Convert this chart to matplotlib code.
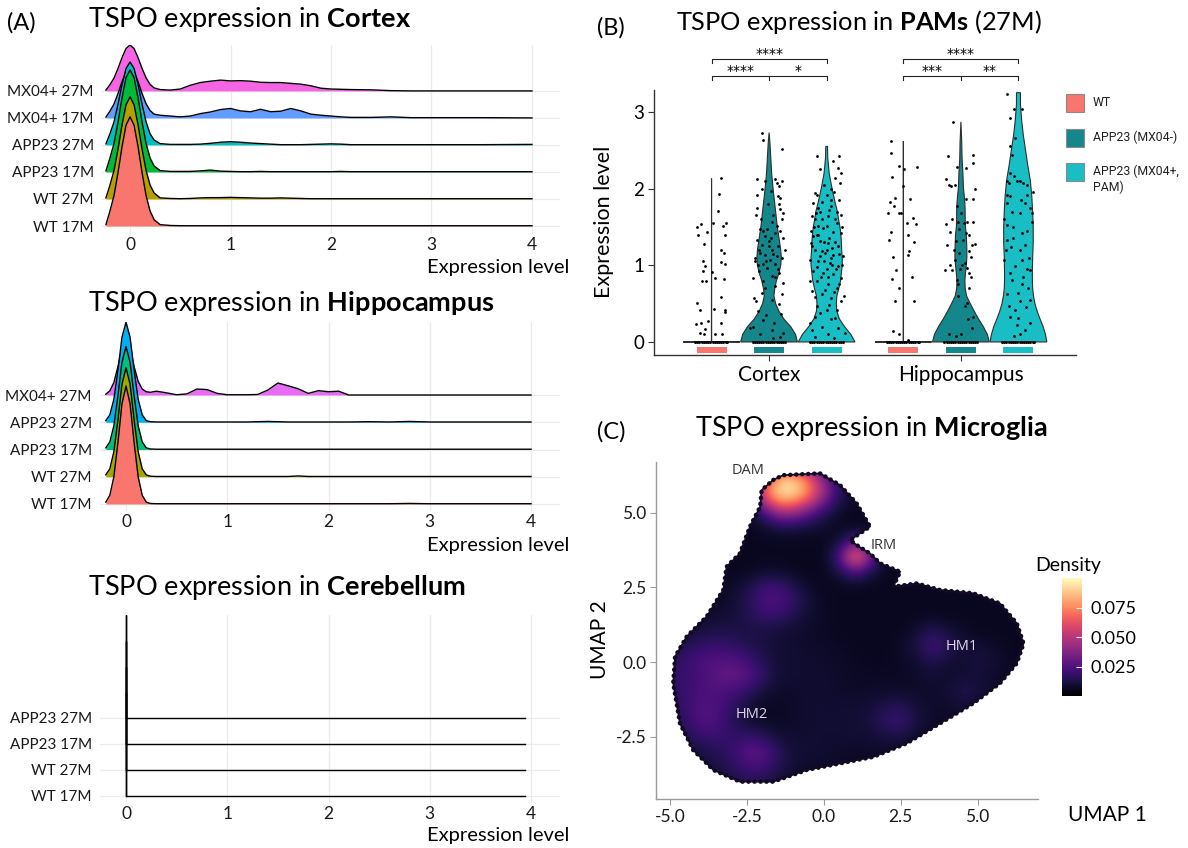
import matplotlib.pyplot as plt
import numpy as np
from matplotlib.patches import Polygon, Rectangle

plt.rcParams['font.family'] = ['Lato', 'DejaVu Sans']
plt.rcParams['mathtext.fontset'] = 'custom'
plt.rcParams['mathtext.rm'] = 'Lato'
plt.rcParams['mathtext.bf'] = 'Lato:bold'

# ---------------- panel A data (ridge heights in row units) ----------------
ridge_x = [-0.24, -0.2, -0.16, -0.12, -0.08, -0.04, 0.0, 0.04, 0.08, 0.12, 0.16, 0.2, 0.24,
           0.3, 0.4, 0.5, 0.6, 0.7, 0.8, 0.9, 1.0, 1.1, 1.2, 1.3, 1.4, 1.5, 1.6, 1.7, 1.8,
           1.9, 2.0, 2.1, 2.2, 2.4, 2.6, 2.8, 3.0, 3.5, 4.0]
hip_x = ridge_x[1:]
cer_x = [0.0, 0.0, 0.0, 3.94]

ctx_labels = ['WT 17M', 'WT 27M', 'APP23 17M', 'APP23 27M', 'MX04+ 17M', 'MX04+ 27M']
ctx_colors = ['#F8766D', '#B79F00', '#00BA38', '#00BFC4', '#619CFF', '#F564E3']
ctx_wt17 = [0.05, 0.55, 1.12, 1.97, 2.93, 3.73, 4.04, 3.73, 2.93, 1.97, 1.12, 0.55, 0.23,
            0.05, 0.02, 0.01, 0.01, 0.01, 0.01, 0.01, 0.01, 0.01, 0.01, 0.01, 0.01, 0.01, 0.01,
            0.01, 0.01, 0.01, 0.01, 0.01, 0.01, 0.01, 0.01, 0.01, 0.01, 0.01, 0.01]
ctx_wt27 = [0.04, 0.51, 1.05, 1.84, 2.74, 3.49, 3.78, 3.49, 2.74, 1.84, 1.05, 0.51, 0.22,
            0.04, 0.02, 0.01, 0.02, 0.04, 0.05, 0.05, 0.06, 0.05, 0.04, 0.03, 0.03, 0.04, 0.03,
            0.02, 0.01, 0.01, 0.01, 0.01, 0.01, 0.01, 0.01, 0.01, 0.01, 0.01, 0.01]
ctx_app17 = [0.04, 0.51, 1.05, 1.84, 2.74, 3.49, 3.78, 3.49, 2.74, 1.84, 1.05, 0.51, 0.22,
             0.05, 0.02, 0.02, 0.02, 0.04, 0.07, 0.03, 0.02, 0.01, 0.01, 0.02, 0.01, 0.01, 0.01,
             0.01, 0.01, 0.01, 0.01, 0.02, 0.01, 0.01, 0.01, 0.01, 0.01, 0.01, 0.01]
ctx_app27 = [0.04, 0.41, 0.85, 1.50, 2.23, 2.83, 3.07, 2.83, 2.23, 1.50, 0.85, 0.41, 0.18,
             0.05, 0.02, 0.02, 0.02, 0.03, 0.06, 0.10, 0.12, 0.10, 0.07, 0.05, 0.03, 0.01, 0.01,
             0.01, 0.02, 0.03, 0.04, 0.03, 0.01, 0.01, 0.01, 0.01, 0.01, 0.01, 0.02]
ctx_mx17 = [0.03, 0.25, 0.51, 0.90, 1.34, 1.71, 1.85, 1.71, 1.34, 0.90, 0.52, 0.27, 0.14,
            0.10, 0.07, 0.04, 0.07, 0.16, 0.22, 0.31, 0.35, 0.26, 0.23, 0.32, 0.23, 0.25, 0.35,
            0.26, 0.14, 0.10, 0.07, 0.04, 0.02, 0.02, 0.04, 0.01, 0.01, 0.01, 0.0]
ctx_mx27 = [0.03, 0.23, 0.47, 0.83, 1.23, 1.57, 1.70, 1.57, 1.23, 0.83, 0.48, 0.24, 0.11,
            0.05, 0.03, 0.07, 0.21, 0.31, 0.36, 0.40, 0.37, 0.38, 0.36, 0.32, 0.31, 0.31, 0.28,
            0.25, 0.19, 0.10, 0.07, 0.06, 0.05, 0.04, 0.01, 0.0, 0.0, 0.0, 0.0]

hip_labels = ['WT 17M', 'WT 27M', 'APP23 17M', 'APP23 27M', 'MX04+ 27M']
hip_colors = ['#F8766D', '#A3A500', '#00BF7D', '#00B0F6', '#E76BF3']
hip_wt17 = [0.07, 0.32, 1.0, 2.25, 3.68, 4.33, 3.68, 2.25, 1.0, 0.32, 0.07, 0.02,
            0.01, 0.01, 0.01, 0.01, 0.01, 0.01, 0.01, 0.01, 0.01, 0.01, 0.01, 0.01, 0.01,
            0.01, 0.01, 0.01, 0.01, 0.01, 0.01, 0.01, 0.01, 0.01, 0.02, 0.01, 0.01, 0.01]
hip_wt27 = [0.07, 0.29, 0.92, 2.08, 3.40, 4.0, 3.40, 2.08, 0.92, 0.29, 0.07, 0.02,
            0.01, 0.01, 0.01, 0.01, 0.01, 0.01, 0.01, 0.01, 0.01, 0.01, 0.01, 0.01, 0.01,
            0.01, 0.03, 0.01, 0.01, 0.01, 0.01, 0.01, 0.01, 0.01, 0.01, 0.01, 0.01, 0.01]
hip_app17 = [0.06, 0.28, 0.87, 1.97, 3.21, 3.78, 3.21, 1.97, 0.87, 0.28, 0.06, 0.02,
             0.01, 0.01, 0.01, 0.01, 0.01, 0.01, 0.01, 0.01, 0.01, 0.01, 0.01, 0.01, 0.01,
             0.01, 0.01, 0.01, 0.01, 0.01, 0.01, 0.01, 0.01, 0.01, 0.01, 0.01, 0.01, 0.01]
hip_app27 = [0.06, 0.27, 0.84, 1.91, 3.12, 3.67, 3.12, 1.91, 0.84, 0.27, 0.06, 0.02,
             0.01, 0.01, 0.01, 0.01, 0.01, 0.01, 0.01, 0.01, 0.01, 0.01, 0.02, 0.03, 0.02,
             0.01, 0.01, 0.01, 0.01, 0.01, 0.01, 0.01, 0.02, 0.01, 0.03, 0.01, 0.01, 0.01]
hip_mx27 = [0.03, 0.15, 0.46, 1.04, 1.70, 2.0, 1.70, 1.04, 0.50, 0.22, 0.12, 0.10,
            0.14, 0.08, 0.01, 0.04, 0.22, 0.20, 0.06, 0.01, 0.01, 0.01, 0.02, 0.18, 0.44,
            0.34, 0.23, 0.06, 0.16, 0.12, 0.14, 0.0, 0.0, 0.0, 0.0, 0.0, 0.0, 0.0]

cer_labels = ['WT 17M', 'WT 27M', 'APP23 17M', 'APP23 27M']
cer_colors = ['#F8766D', '#7CAE00', '#00BFC4', '#C77CFF']
cer_rows = [[0.0, 3.96, 0.0, 0.0], [0.0, 3.96, 0.0, 0.0], [0.0, 3.96, 0.0, 0.0], [0.0, 3.96, 0.0, 0.0]]

# ---------------- panel B data ----------------
regions = ['Cortex', 'Hippocampus']
groups = ['WT', 'APP23 (MX04-)', 'APP23 (MX04+,\nPAM)']
group_colors = ['#F8766D', '#13878C', '#19BEC4']
# violin profiles: (expression level, relative half width)
ctx_wt_vio = [(0.0, 1.0), (0.004, 0.004), (2.13, 0.0)]
ctx_neg_vio = [(0.0, 1.0), (0.1, 0.93), (0.2, 0.76), (0.3, 0.52), (0.4, 0.35), (0.5, 0.23), (0.6, 0.17),
               (0.7, 0.2), (0.8, 0.26), (0.9, 0.35), (1.0, 0.41), (1.1, 0.43), (1.2, 0.41), (1.3, 0.37),
               (1.4, 0.33), (1.5, 0.29), (1.6, 0.26), (1.7, 0.23), (1.8, 0.2), (1.9, 0.17), (2.0, 0.14),
               (2.2, 0.09), (2.4, 0.06), (2.6, 0.03), (2.73, 0.0)]
ctx_pos_vio = [(0.0, 1.0), (0.1, 0.85), (0.2, 0.63), (0.3, 0.45), (0.4, 0.36), (0.5, 0.34), (0.6, 0.36),
               (0.7, 0.43), (0.8, 0.49), (0.9, 0.52), (1.0, 0.55), (1.1, 0.55), (1.2, 0.53), (1.3, 0.52),
               (1.4, 0.5), (1.5, 0.47), (1.6, 0.42), (1.7, 0.38), (1.8, 0.31), (1.9, 0.25), (2.0, 0.19),
               (2.2, 0.09), (2.4, 0.04), (2.55, 0.03)]
hip_wt_vio = [(0.0, 1.0), (0.004, 0.004), (2.62, 0.0)]
hip_neg_vio = [(0.0, 1.0), (0.1, 0.93), (0.2, 0.79), (0.3, 0.62), (0.4, 0.47), (0.5, 0.33), (0.6, 0.2),
               (0.7, 0.15), (0.8, 0.14), (0.9, 0.16), (1.0, 0.19), (1.1, 0.21), (1.2, 0.21), (1.3, 0.2),
               (1.4, 0.19), (1.5, 0.16), (1.6, 0.15), (1.7, 0.15), (1.8, 0.14), (1.9, 0.12), (2.0, 0.09),
               (2.2, 0.07), (2.4, 0.04), (2.6, 0.03), (2.87, 0.0)]
hip_pos_vio = [(0.0, 1.0), (0.1, 0.95), (0.2, 0.87), (0.3, 0.76), (0.4, 0.66), (0.5, 0.58), (0.6, 0.53),
               (0.7, 0.5), (0.8, 0.49), (0.9, 0.49), (1.1, 0.5), (1.3, 0.52), (1.5, 0.52), (1.7, 0.5),
               (1.9, 0.47), (2.1, 0.42), (2.3, 0.33), (2.5, 0.25), (2.7, 0.17), (2.9, 0.11), (3.1, 0.07),
               (3.25, 0.07)]

# jittered cells: (offset in violin half widths, expression level)
ctx_wt_pts = [(0.35, 2.14), (0.27, 1.93), (0.21, 1.71), (0.06, 1.55), (-0.52, 1.5), (-0.38, 1.54),
              (-0.17, 1.44), (-0.47, 1.4), (0.41, 1.51), (0.52, 1.55), (0.47, 1.4), (-0.26, 1.28),
              (0.35, 1.2), (0.43, 1.16), (0.35, 1.04), (0.47, 1.01), (-0.29, 1.05), (-0.23, 0.99),
              (-0.31, 0.92), (0.44, 0.82), (-0.2, 0.8), (-0.34, 0.79), (0.12, 0.83), (0.0, 0.91),
              (0.35, 0.58), (-0.5, 0.51), (-0.41, 0.42), (0.47, 0.42), (0.49, 0.39), (0.1, 0.43),
              (-0.12, 0.27), (-0.38, 0.25), (-0.55, 0.23), (0.35, 0.25), (-0.23, 0.17), (-0.41, 0.12),
              (-0.27, 0.11), (0.12, 0.11), (0.38, 0.11)]
ctx_neg_pts = [(-0.26, 2.73), (-0.22, 2.63), (0.44, 2.52), (-0.43, 2.12), (-0.16, 2.1), (0.21, 2.12),
               (0.27, 2.07), (0.36, 2.03), (0.07, 1.97), (-0.43, 1.92), (0.38, 1.88), (0.34, 1.8),
               (0.38, 1.73), (-0.43, 1.75), (0.5, 1.68), (0.44, 1.6), (-0.47, 1.65), (0.09, 1.57),
               (-0.31, 1.47), (0.21, 1.42), (-0.14, 1.38), (0.5, 1.36), (-0.43, 1.33), (-0.02, 1.31),
               (-0.26, 1.27), (0.33, 1.25), (0.09, 1.2), (-0.31, 1.16), (-0.14, 1.14), (0.27, 1.12),
               (0.44, 1.1), (0.03, 1.07), (-0.49, 1.05), (-0.2, 1.02), (0.21, 1.01), (-0.08, 0.97),
               (-0.34, 0.92), (0.36, 0.9), (0.09, 0.86), (-0.55, 0.83), (-0.2, 0.79), (0.5, 0.77),
               (0.21, 0.73), (-0.26, 0.64), (0.44, 0.62), (0.09, 0.55), (-0.52, 0.57), (-0.47, 0.53),
               (0.42, 0.36), (-0.22, 0.29), (0.17, 0.25), (-0.66, 0.18), (-0.55, 0.2), (0.5, 0.12),
               (-0.31, 0.1), (0.38, 0.07), (0.13, 0.05), (0.0, 1.25), (-0.08, 1.47), (0.27, 1.51),
               (-0.35, 1.2), (0.15, 1.15), (-0.1, 1.05), (0.3, 0.95), (-0.4, 1.0), (0.05, 1.35),
               (-0.2, 1.45), (0.4, 1.45), (-0.3, 1.6), (0.15, 1.65), (-0.05, 1.8), (0.3, 1.9),
               (-0.25, 2.0), (0.45, 2.1), (-0.5, 1.1), (0.55, 1.2), (0.2, 0.85), (-0.15, 0.7),
               (0.35, 0.5), (-0.4, 0.4), (0.1, 0.15), (-0.1, 0.35)]
ctx_pos_pts = [(-0.35, 1.4), (-0.29, 1.51), (-0.52, 1.64), (-0.47, 1.81), (-0.41, 1.94), (0.0, 1.51),
               (0.29, 1.6), (0.44, 2.42), (-0.35, 2.43), (0.23, 2.36), (0.41, 2.27), (0.29, 2.14),
               (0.47, 2.07), (0.14, 1.99), (0.0, 1.92), (-0.17, 1.83), (0.17, 1.77), (0.35, 1.7),
               (-0.23, 1.7), (-0.41, 1.6), (0.06, 1.64), (-0.12, 1.49), (0.23, 1.44), (0.52, 1.42),
               (-0.47, 1.38), (-0.23, 1.31), (0.06, 1.29), (0.41, 1.25), (-0.41, 1.2), (-0.06, 1.16),
               (0.23, 1.14), (0.58, 1.12), (-0.58, 1.07), (-0.29, 1.05), (0.12, 1.03), (0.41, 0.99),
               (-0.47, 0.92), (-0.12, 0.9), (0.23, 0.88), (0.52, 0.83), (-0.35, 0.79), (0.06, 0.75),
               (0.35, 0.7), (-0.52, 0.66), (-0.17, 0.62), (0.17, 0.57), (0.49, 0.53), (-0.35, 0.47),
               (0.0, 0.42), (-0.41, 0.33), (0.29, 0.31), (-0.58, 0.25), (-0.17, 0.2), (0.41, 0.18),
               (-0.41, 0.07), (0.06, 0.1), (0.64, 0.12), (-0.56, 1.29), (0.49, 1.66), (-0.33, 1.92),
               (0.2, 1.22), (-0.1, 1.05), (0.33, 0.95), (-0.25, 1.12), (0.1, 1.35),
               (-0.45, 1.5), (-0.3, 1.75), (0.15, 1.85), (0.45, 1.85), (-0.5, 1.25), (-0.1, 1.3),
               (0.3, 1.3), (0.55, 1.0), (-0.35, 0.98), (0.0, 0.95), (0.15, 1.1), (-0.2, 0.85),
               (0.45, 0.75), (-0.05, 0.68), (0.25, 0.65), (-0.4, 0.58), (0.1, 0.48), (0.35, 0.42),
               (-0.25, 0.38), (0.15, 0.3), (-0.5, 0.15), (0.25, 0.05), (0.55, 1.5), (-0.55, 1.45),
               (0.38, 1.55), (-0.15, 1.6), (0.1, 1.72), (-0.38, 1.68), (0.27, 1.95), (-0.08, 2.05),
               (0.52, 2.2), (-0.25, 2.25), (0.6, 0.6), (-0.6, 0.8), (0.0, 1.2), (0.2, 1.0),
               (-0.3, 1.4), (0.45, 1.15), (-0.15, 1.18), (0.05, 0.85)]
hip_wt_pts = [(-0.44, 2.62), (-0.43, 2.47), (-0.17, 2.29), (0.03, 2.25), (0.47, 2.28), (-0.41, 2.15),
              (0.0, 2.03), (0.23, 1.86), (-0.47, 1.83), (-0.29, 1.88), (-0.33, 1.77), (-0.55, 1.68),
              (-0.17, 1.68), (-0.08, 1.68), (0.33, 1.62), (0.12, 1.55), (0.43, 1.54), (-0.44, 1.43),
              (-0.5, 1.33), (0.15, 1.4), (0.37, 1.3), (0.2, 1.18), (-0.35, 1.11), (0.17, 1.14),
              (-0.26, 0.94), (-0.41, 0.82), (0.31, 0.85), (-0.14, 0.7), (-0.31, 0.53), (0.38, 0.54),
              (-0.37, 0.14), (-0.14, 0.1), (0.17, 0.03)]
hip_neg_pts = [(-0.28, 2.87), (-0.47, 2.43), (0.41, 2.44), (0.44, 2.33), (-0.14, 2.28), (0.19, 2.27),
               (-0.51, 2.12), (-0.42, 2.05), (-0.35, 2.03), (-0.2, 2.05), (0.48, 1.99), (0.19, 1.86),
               (0.42, 1.87), (-0.14, 1.77), (0.0, 1.68), (-0.51, 1.54), (-0.12, 1.57), (0.21, 1.57),
               (0.44, 1.56), (-0.08, 1.47), (0.19, 1.42), (-0.37, 1.43), (-0.16, 1.31), (0.09, 1.33),
               (-0.49, 1.26), (0.38, 1.27), (0.5, 1.28), (0.3, 1.18), (-0.05, 1.16), (0.35, 1.11),
               (-0.2, 1.07), (0.15, 1.03), (-0.55, 0.94), (-0.31, 0.94), (-0.02, 0.95), (0.21, 0.97),
               (0.27, 0.9), (-0.14, 0.81), (-0.12, 0.75), (0.3, 0.7), (0.21, 0.51), (0.15, 0.47),
               (0.44, 0.33), (-0.43, 0.1), (-0.16, 0.08), (0.0, 0.1), (0.38, 0.18),
               (-0.3, 1.6), (0.1, 1.55), (0.3, 1.4), (-0.25, 1.2), (0.05, 1.0), (-0.4, 1.0),
               (0.35, 0.85), (-0.1, 0.6), (0.25, 0.3)]
hip_pos_pts = [(-0.41, 3.23), (-0.17, 3.04), (0.12, 3.04), (-0.31, 2.92), (-0.12, 2.66), (-0.29, 2.55),
               (-0.23, 2.44), (-0.29, 2.2), (-0.17, 2.16), (-0.41, 2.1), (-0.35, 2.07), (-0.06, 2.1),
               (0.06, 2.1), (0.17, 2.07), (0.29, 2.05), (0.52, 1.95), (-0.41, 1.92), (0.29, 1.92),
               (-0.41, 1.81), (0.23, 1.81), (-0.23, 1.7), (0.06, 1.68), (0.47, 1.68), (-0.52, 1.6),
               (0.47, 1.57), (-0.41, 1.53), (0.12, 1.42), (-0.41, 1.33), (-0.27, 1.24), (0.23, 1.27),
               (0.38, 1.1), (0.12, 1.07), (-0.5, 1.07), (-0.12, 0.99), (0.41, 0.94), (-0.23, 0.81),
               (0.12, 0.75), (0.35, 0.7), (0.0, 0.64), (0.41, 0.55), (0.06, 0.53), (-0.35, 0.47),
               (-0.12, 0.42), (-0.29, 0.33), (0.0, 0.31), (0.23, 0.16), (-0.17, 0.08), (0.06, 0.1),
               (-0.3, 1.9), (0.1, 1.85), (0.4, 1.75), (-0.2, 1.5), (0.3, 1.45), (-0.45, 1.2),
               (0.05, 1.2), (0.3, 0.95), (-0.3, 0.9), (0.15, 0.85), (-0.4, 0.62), (0.25, 0.45),
               (-0.05, 0.22), (0.4, 0.25), (-0.2, 1.35)]
zero_dx = [-0.58, -0.5, -0.43, -0.35, -0.27, -0.2, -0.12, -0.04, 0.04, 0.11, 0.19, 0.27, 0.34, 0.42, 0.5, 0.56]
sig_labels = [['****', '****', '*'], ['****', '***', '**']]

# ---------------- panel C data ----------------
umap_edge_x = [-1.65, -1.33, -0.13, 0.52, 1.06, 1.5, 0.85, 1.07, 1.5, 1.83, 2.48, 2.26, 3.02, 3.78,
               4.86, 5.73, 6.28, 6.5, 6.28, 5.73, 4.86, 3.78, 2.69, 1.61, 0.52, -0.56, -1.65, -2.74,
               -3.6, -4.26, -4.69, -4.91, -4.85, -4.47, -3.82, -3.28, -3.17, -2.74, -2.41, -2.08, -2.03]
umap_edge_y = [6.09, 6.25, 6.31, 5.92, 5.31, 4.53, 4.08, 3.91, 3.63, 3.3, 3.02, 2.52, 2.63, 2.41,
               2.3, 1.96, 1.29, 0.62, -0.04, -0.71, -1.38, -2.05, -2.72, -3.17, -3.39, -3.61, -4.0, -4.0,
               -3.61, -2.94, -2.05, -0.71, 0.18, 0.85, 1.52, 2.41, 3.19, 3.63, 4.53, 5.19, 5.75]
dens_x = [-5.0, -4.5, -4.0, -3.5, -3.0, -2.5, -2.0, -1.5, -1.0, -0.5, 0.0, 0.5,
          1.0, 1.5, 2.0, 2.5, 3.0, 3.5, 4.0, 4.5, 5.0, 5.5, 6.0, 6.5]
dens_y = [6.5, 6.0, 5.5, 5.0, 4.5, 4.0, 3.5, 3.0, 2.5, 2.0, 1.5, 1.0, 0.5, 0.0,
          -0.5, -1.0, -1.5, -2.0, -2.5, -3.0, -3.5, -4.0]
# density x 1000, rows from top (y=6.5) to bottom (y=-4.0)
dens_rows = [
    [6, 6, 6, 6, 6, 6, 20, 50, 50, 30, 14, 6, 6, 6, 6, 6, 6, 6, 6, 6, 6, 6, 6, 6],
    [6, 6, 6, 6, 6, 10, 55, 92, 97, 75, 40, 14, 6, 6, 6, 6, 6, 6, 6, 6, 6, 6, 6, 6],
    [6, 6, 6, 6, 6, 10, 60, 92, 90, 70, 40, 14, 8, 6, 6, 6, 6, 6, 6, 6, 6, 6, 6, 6],
    [6, 6, 6, 6, 6, 6, 20, 45, 45, 30, 16, 8, 6, 6, 6, 6, 6, 6, 6, 6, 6, 6, 6, 6],
    [6, 6, 6, 6, 6, 6, 8, 12, 12, 10, 8, 6, 6, 6, 6, 6, 6, 6, 6, 6, 6, 6, 6, 6],
    [6, 6, 6, 6, 6, 6, 6, 6, 6, 6, 6, 10, 28, 16, 6, 6, 6, 6, 6, 6, 6, 6, 6, 6],
    [6, 6, 6, 6, 6, 6, 6, 6, 6, 6, 6, 24, 82, 36, 6, 6, 6, 6, 6, 6, 6, 6, 6, 6],
    [6, 6, 6, 6, 6, 6, 8, 8, 6, 6, 6, 12, 24, 12, 6, 6, 6, 6, 6, 6, 6, 6, 6, 6],
    [6, 6, 6, 6, 8, 12, 20, 22, 14, 8, 6, 6, 6, 6, 6, 6, 6, 6, 6, 6, 6, 6, 6, 6],
    [6, 6, 6, 6, 10, 14, 24, 25, 18, 10, 7, 6, 6, 6, 6, 6, 6, 6, 6, 6, 6, 6, 6, 6],
    [6, 6, 8, 10, 10, 14, 18, 18, 13, 9, 7, 6, 6, 6, 6, 6, 6, 6, 6, 6, 6, 6, 6, 6],
    [8, 10, 12, 13, 13, 12, 12, 10, 9, 8, 7, 6, 6, 6, 6, 6, 10, 16, 12, 8, 6, 6, 6, 6],
    [12, 15, 18, 20, 18, 15, 12, 10, 9, 8, 8, 7, 6, 6, 6, 8, 12, 22, 16, 10, 10, 8, 6, 6],
    [15, 20, 24, 26, 26, 22, 14, 10, 9, 9, 8, 8, 7, 6, 6, 7, 9, 14, 10, 8, 12, 10, 7, 6],
    [16, 20, 22, 28, 30, 28, 18, 10, 9, 9, 9, 8, 7, 7, 7, 7, 8, 9, 8, 10, 10, 8, 6, 6],
    [15, 20, 24, 24, 22, 18, 10, 8, 8, 9, 9, 8, 8, 8, 8, 8, 8, 8, 10, 14, 12, 8, 6, 6],
    [14, 20, 25, 24, 18, 10, 7, 7, 8, 9, 9, 9, 9, 10, 14, 16, 10, 8, 8, 10, 8, 6, 6, 6],
    [12, 18, 26, 24, 15, 10, 7, 7, 8, 9, 9, 9, 10, 12, 18, 20, 12, 8, 7, 7, 6, 6, 6, 6],
    [10, 14, 18, 20, 18, 18, 16, 10, 9, 9, 9, 9, 9, 9, 12, 12, 8, 6, 6, 6, 6, 6, 6, 6],
    [8, 10, 12, 15, 18, 28, 28, 16, 10, 9, 9, 8, 8, 8, 8, 6, 6, 6, 6, 6, 6, 6, 6, 6],
    [6, 8, 10, 12, 16, 22, 22, 14, 10, 8, 8, 8, 6, 6, 6, 6, 6, 6, 6, 6, 6, 6, 6, 6],
    [6, 6, 8, 10, 12, 14, 14, 10, 8, 6, 6, 6, 6, 6, 6, 6, 6, 6, 6, 6, 6, 6, 6, 6],
]
cluster_names = ['DAM', 'IRM', 'HM1', 'HM2']
cluster_x = [-2.47, 1.93, 4.48, -2.36]
cluster_y = [6.42, 3.91, 0.51, -1.77]

W, H = 1188, 848
fig = plt.figure(figsize=(W / 100, H / 100), dpi=100)


def px_axes(l, t, r, b):
    return fig.add_axes([l / W, 1 - b / H, (r - l) / W, (b - t) / H])


def ftext(x, y, s, **kw):
    return fig.text(x / W, 1 - y / H, s, **kw)


def ridge_panel(ax, xs, rows, labels, colors, xlim, ylim):
    n = len(rows)
    for k, i in enumerate(range(n - 1, -1, -1)):
        h = np.array(rows[i])
        ax.fill_between(xs, i, i + h, color=colors[i], lw=0, zorder=2 + k)
        ax.plot(xs, i + h, color='black', lw=1.0, zorder=2 + k)
    ax.set_xlim(*xlim)
    ax.set_ylim(*ylim)
    ax.set_xticks([0, 1, 2, 3, 4])
    ax.set_yticks(range(n))
    ax.set_yticklabels(labels)
    ax.grid(color='#EBEBEB', lw=0.9)
    ax.set_axisbelow(True)
    for s in ax.spines.values():
        s.set_visible(False)
    ax.tick_params(axis='x', length=0, pad=2, labelsize=12.5, colors='#1a1a1a')
    ax.tick_params(axis='y', length=0, pad=6, labelsize=11, colors='#1a1a1a')


title_size = 19.5

# ---------------- panel A ----------------
ftext(7, 23, '(A)', fontsize=17, va='center')
ax1 = px_axes(102, 45, 560, 234)
ridge_panel(ax1, ridge_x, [ctx_wt17, ctx_wt27, ctx_app17, ctx_app27, ctx_mx17, ctx_mx27],
            ctx_labels, ctx_colors, (-0.279, 4.279), (-0.296, 6.70))
ftext(88, 20, r'TSPO expression in $\mathbf{Cortex}$', fontsize=title_size, va='center')
ftext(569, 267, 'Expression level', fontsize=14.5, ha='right', va='center')

ax2 = px_axes(100, 322, 560, 511)
ridge_panel(ax2, hip_x, [hip_wt17, hip_wt27, hip_app17, hip_app27, hip_mx27],
            hip_labels, hip_colors, (-0.257, 4.286), (-0.257, 6.68))
ftext(88, 304, r'TSPO expression in $\mathbf{Hippocampus}$', fontsize=title_size, va='center')
ftext(569, 545, 'Expression level', fontsize=14.5, ha='right', va='center')

ax3 = px_axes(100, 615, 560, 803)
ridge_panel(ax3, cer_x, cer_rows, cer_labels, cer_colors, (-0.257, 4.286), (-0.27, 6.96))
ftext(88, 587, r'TSPO expression in $\mathbf{Cerebellum}$', fontsize=title_size, va='center')
ftext(569, 835, 'Expression level', fontsize=14.5, ha='right', va='center')

# ---------------- panel B ----------------
ftext(597, 28, '(B)', fontsize=17, va='center')
ftext(676, 22, r'TSPO expression in $\mathbf{PAMs}$ (27M)', fontsize=18.3, va='center')
axb = px_axes(654, 90, 1076, 355)
violins = [[ctx_wt_vio, ctx_neg_vio, ctx_pos_vio], [hip_wt_vio, hip_neg_vio, hip_pos_vio]]
points = [[ctx_wt_pts, ctx_neg_pts, ctx_pos_pts], [hip_wt_pts, hip_neg_pts, hip_pos_pts]]
dodge = [-0.3, 0.0, 0.3]
hw = 0.148
for r in range(2):
    for g in range(3):
        c = r + 1 + dodge[g]
        prof = np.array(violins[r][g])
        ys, ws = prof[:, 0], prof[:, 1] * hw
        axb.fill(np.concatenate([c - ws, (c + ws)[::-1]]), np.concatenate([ys, ys[::-1]]),
                 facecolor=group_colors[g], edgecolor='#2e2e2e', lw=0.8, zorder=2)
        pts = np.array(points[r][g])
        axb.scatter(c + pts[:, 0] * hw, pts[:, 1], s=4, color='black', lw=0, zorder=3)
        axb.scatter(c + np.array(zero_dx) * hw, np.zeros(len(zero_dx)), s=4.5, color='black', lw=0, zorder=3)
        axb.add_patch(Rectangle((c - 0.078, -0.14), 0.156, 0.075, facecolor=group_colors[g],
                                edgecolor='none', zorder=2))
    c0, c1, c2 = r + 1 - 0.3, r + 1, r + 1 + 0.3
    axb.plot([c0, c0, c2, c2], [3.64, 3.69, 3.69, 3.64], color='#222222', lw=0.8, clip_on=False)
    axb.plot([c0, c0, c2, c2], [3.42, 3.47, 3.47, 3.42], color='#222222', lw=0.8, clip_on=False)
    axb.plot([c1, c1], [3.47, 3.42], color='#222222', lw=0.8, clip_on=False)
    axb.text(c1, 3.70, sig_labels[r][0], ha='center', va='baseline', fontsize=10, family='DejaVu Sans')
    axb.text((c0 + c1) / 2, 3.48, sig_labels[r][1], ha='center', va='baseline', fontsize=10, family='DejaVu Sans')
    axb.text((c1 + c2) / 2, 3.48, sig_labels[r][2], ha='center', va='baseline', fontsize=10, family='DejaVu Sans')
axb.set_xlim(0.4, 2.6)
axb.set_ylim(-0.17, 3.285)
axb.set_xticks([1, 2])
axb.set_xticklabels(regions)
axb.set_yticks([0, 1, 2, 3])
for s in ['top', 'right']:
    axb.spines[s].set_visible(False)
for s in ['left', 'bottom']:
    axb.spines[s].set_color('#333333')
    axb.spines[s].set_linewidth(1.0)
axb.tick_params(axis='x', length=4, color='#333333', labelsize=15, pad=3)
axb.tick_params(axis='y', length=4, color='#333333', labelsize=13.5, pad=3)
ftext(604, 222, 'Expression level', fontsize=15.5, rotation=90, ha='center', va='center')

# legend
lax = px_axes(1060, 85, 1188, 200)
lax.set_xlim(1060, 1188)
lax.set_ylim(200, 85)
lax.axis('off')
key_tops = [94, 129, 163]
for g in range(3):
    lax.add_patch(Rectangle((1066, key_tops[g]), 18, 18, facecolor=group_colors[g],
                            edgecolor='#8a8a8a', lw=0.8))
    lax.text(1093, key_tops[g] + 2, groups[g], fontsize=8.8, family='Roboto', va='top',
             linespacing=1.2, color='#222222')

# ---------------- panel C ----------------
ftext(597, 432, '(C)', fontsize=17, va='center')
ftext(695, 428, r'TSPO expression in $\mathbf{Microglia}$', fontsize=title_size, va='center')
axc = px_axes(656, 462, 1038, 799)
grid = np.array(dens_rows) / 1000.0
im = axc.imshow(grid, extent=[dens_x[0] - 0.25, dens_x[-1] + 0.25, dens_y[-1] - 0.25, dens_y[0] + 0.25],
                origin='upper', cmap='magma', vmin=0, vmax=0.1, interpolation='bicubic',
                aspect='auto', zorder=2)
outline = Polygon(np.column_stack([umap_edge_x, umap_edge_y]), closed=True, facecolor='none',
                  edgecolor='#150d2b', lw=1.2, zorder=3)
axc.add_patch(outline)
im.set_clip_path(outline)
# beaded edge of the cell cloud
axc.add_patch(Polygon(np.column_stack([umap_edge_x, umap_edge_y]), closed=True, facecolor='none',
                      edgecolor='#120a22', lw=3.2, linestyle=(0, (0.05, 1.3)), capstyle='round',
                      joinstyle='round', zorder=3))
for name, x, y in zip(cluster_names, cluster_x, cluster_y):
    col = '#333333' if name in ('DAM', 'IRM') else '#e3d6ee'
    axc.text(x, y, name, fontsize=10.5, family='Open Sans', color=col, ha='center', va='center', zorder=5)
axc.set_xlim(-5.47, 6.97)
axc.set_ylim(-4.58, 6.69)
axc.set_xticks([-5, -2.5, 0, 2.5, 5])
axc.set_xticklabels(['-5.0', '-2.5', '0.0', '2.5', '5.0'])
axc.set_yticks([-2.5, 0, 2.5, 5])
axc.set_yticklabels(['-2.5', '0.0', '2.5', '5.0'])
for s in ['top', 'right']:
    axc.spines[s].set_visible(False)
for s in ['left', 'bottom']:
    axc.spines[s].set_color('#9a9a9a')
    axc.spines[s].set_linewidth(1.0)
axc.tick_params(length=4, color='#9a9a9a', labelsize=12.5, pad=3, labelcolor='#1a1a1a')
ftext(600, 640, 'UMAP 2', fontsize=15, rotation=90, ha='center', va='center')
ftext(1068, 815, 'UMAP 1', fontsize=15, ha='left', va='center')

cax = px_axes(1062, 578, 1082, 696)
cb = fig.colorbar(im, cax=cax, ticks=[0.025, 0.05, 0.075])
cb.ax.set_yticklabels(['0.025', '0.050', '0.075'])
cb.outline.set_visible(False)
cax.tick_params(length=4, color='white', direction='in', labelsize=13, pad=6)
ftext(1035, 565, 'Density', fontsize=14, va='center')

fig.savefig('out.png', dpi=100)
